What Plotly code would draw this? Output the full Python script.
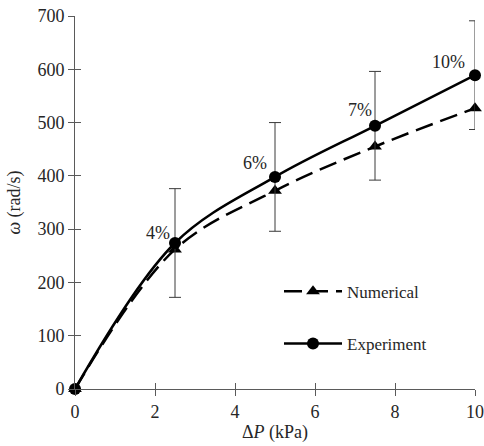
import plotly.graph_objects as go

dp = [0, 2.5, 5, 7.5, 10]
numerical = [0, 262, 372, 455, 527]
experiment = [0, 274, 398, 494, 589]
exp_err = [0, 102, 102, 102, 102]
label_text = ["4%", "6%", "7%", "10%"]
label_x = [2.07, 4.5, 7.12, 9.33]
label_y = [293, 424, 523, 613]

FONT = "Liberation Serif"
TXT = "#262626"
AX = "#5a5a5a"

fig = go.Figure()
fig.add_trace(go.Scatter(
    x=dp, y=numerical, name="Numerical", mode="lines+markers",
    line=dict(color="black", width=2.5, dash="18px,8px", shape="spline", smoothing=1),
    marker=dict(symbol="triangle-up", size=12, color="black"),
    cliponaxis=False, legendgroup="a"))
fig.add_trace(go.Scatter(
    x=dp, y=experiment, name="Experiment", mode="lines+markers",
    line=dict(color="black", width=2.5, shape="spline", smoothing=1),
    marker=dict(symbol="circle", size=12, color="black"),
    error_y=dict(type="data", array=exp_err, color="#3a3a3a", thickness=1, width=6),
    cliponaxis=False, legendgroup="b"))
# invisible trace to hold overlay axes (for crossing ticks)
fig.add_trace(go.Scatter(x=[0, 10], y=[0, 700], xaxis="x2", yaxis="y2",
                         mode="markers", marker=dict(opacity=0), showlegend=False,
                         hoverinfo="skip"))

for xv, yv, t in zip(label_x, label_y, label_text):
    fig.add_annotation(x=xv, y=yv, text=t, showarrow=False,
                       font=dict(family=FONT, size=18, color=TXT))

axis_common = dict(showgrid=False, zeroline=False, showline=True, linecolor=AX,
                   linewidth=1, tickcolor=AX, ticklen=6, tickwidth=1, automargin=False)
fig.update_layout(
    width=484, height=446,
    margin=dict(l=75, r=9, t=16, b=57),
    plot_bgcolor="white", paper_bgcolor="white",
    font=dict(family=FONT, size=18, color=TXT),
    xaxis=dict(range=[0, 10], tickvals=[0, 2, 4, 6, 8, 10], ticks="outside",
               tickfont=dict(family=FONT, size=18, color=TXT),
               title=dict(text="Δ<i>P</i> (kPa)", standoff=4,
                          font=dict(family=FONT, size=18, color=TXT)),
               **axis_common),
    yaxis=dict(range=[0, 700], tickvals=list(range(0, 701, 100)), ticks="outside",
               tickfont=dict(family=FONT, size=18, color=TXT),
               title=dict(text="<i>ω</i> (rad/s)", standoff=12,
                          font=dict(family=FONT, size=18, color=TXT)),
               **axis_common),
    xaxis2=dict(overlaying="x", matches="x", ticks="inside", showticklabels=False,
                tickvals=[0, 2, 4, 6, 8, 10], side="bottom", anchor="y2", **axis_common),
    yaxis2=dict(overlaying="y", matches="y", ticks="inside", showticklabels=False,
                tickvals=list(range(0, 701, 100)), side="left", anchor="x2", **axis_common),
    legend=dict(x=0.51, y=0.309, xanchor="left", yanchor="top",
                bgcolor="rgba(0,0,0,0)", font=dict(family=FONT, size=17, color=TXT),
                traceorder="grouped", tracegroupgap=27, itemwidth=58),
    showlegend=True,
)

fig.write_html("out.html")
